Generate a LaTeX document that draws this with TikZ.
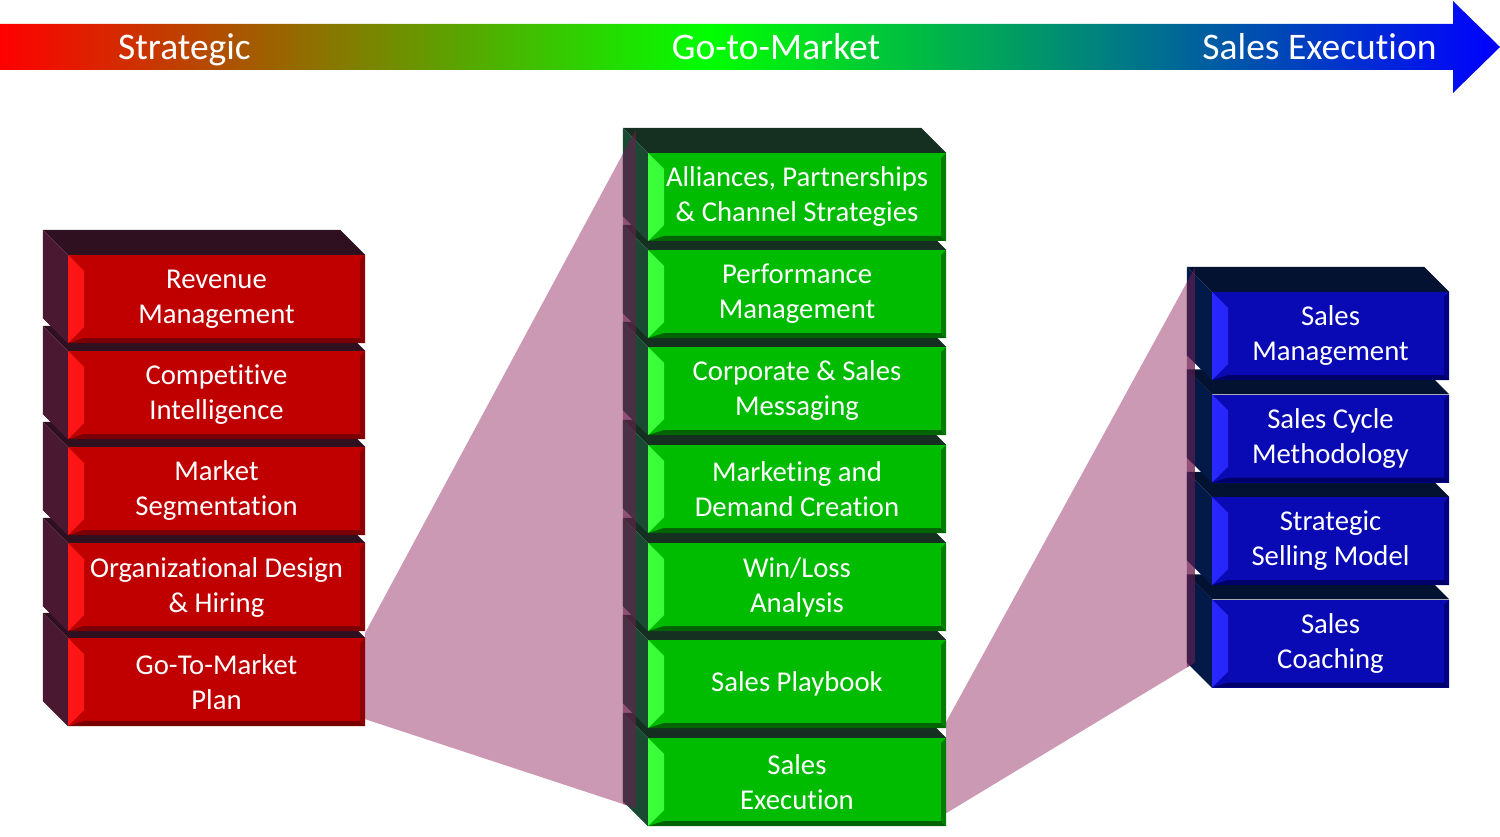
\documentclass[tikz,border=0pt]{standalone}
\usepackage{fontspec}
\setmainfont{Carlito}[Ligatures=NoCommon]
\usepackage{tikz}

\definecolor{redfront}{HTML}{C00000}
\definecolor{redlight}{HTML}{FF1616}
\definecolor{reddark}{HTML}{7A0000}
\definecolor{redtop}{HTML}{2E1020}
\definecolor{redside}{HTML}{4A1830}
\definecolor{greenfront}{HTML}{00BC00}
\definecolor{greenlight}{HTML}{3CFF3C}
\definecolor{greendark}{HTML}{006400}
\definecolor{greentop}{HTML}{153020}
\definecolor{greenside}{HTML}{1B4A32}
\definecolor{bluefront}{HTML}{0A0AB5}
\definecolor{bluelight}{HTML}{2828FF}
\definecolor{bluedark}{HTML}{00006A}
\definecolor{bluetop}{HTML}{041231}
\definecolor{blueside}{HTML}{031A48}
\definecolor{fancolor}{HTML}{CB99B4}
\definecolor{fantint}{HTML}{6A2050}

\pgfdeclarehorizontalshading{salesarrow}{100bp}{rgb(0bp)=(1,0,0); rgb(25bp)=(1,0,0); rgb(48.65bp)=(0,1,0); rgb(75bp)=(0,0,1); rgb(100bp)=(0,0,1)}
\pgfdeclarelayer{background}
\pgfsetlayers{background,main}

% top and left face of a brick, drawn after the node
\newcommand{\bricksides}[2]{%
  \fill[#1] ([shift={(-25pt,25pt)}]\tikzlastnode.north west) -- ([shift={(-25pt,25pt)}]\tikzlastnode.north east)
    -- (\tikzlastnode.north east) -- (\tikzlastnode.north west) -- cycle;
  \fill[#2] ([shift={(-25pt,25pt)}]\tikzlastnode.north west) -- (\tikzlastnode.north west)
    -- (\tikzlastnode.south west) -- ([shift={(-25pt,25pt)}]\tikzlastnode.south west) -- cycle;}

% bevel on the front face
\newcommand{\brickbevel}[3]{%
  \fill[left color=#1, right color=#2] (path picture bounding box.north west) -- ([shift={(16pt,-16pt)}]path picture bounding box.north west)
    -- ([shift={(16pt,16pt)}]path picture bounding box.south west) -- (path picture bounding box.south west) -- cycle;
  \fill[#3] (path picture bounding box.south west) -- ([shift={(16pt,5pt)}]path picture bounding box.south west)
    -- ([shift={(-5pt,5pt)}]path picture bounding box.south east) -- (path picture bounding box.south east) -- cycle;
  \fill[#3!70!#2] (path picture bounding box.north east) -- (path picture bounding box.south east)
    -- ([shift={(-5pt,5pt)}]path picture bounding box.south east) -- ([shift={(-5pt,-5pt)}]path picture bounding box.north east) -- cycle;}

\begin{document}
\begin{tikzpicture}[x=1pt, y=-1pt]

	\tikzstyle{brick} = [rectangle, inner sep=0pt, text=white, align=center, font=\fontsize{28.7}{35}\selectfont]
	\tikzstyle{brick_red} = [brick, minimum width=297pt, minimum height=88pt, fill=redfront,
		path picture={\brickbevel{redlight}{redfront}{reddark}}, append after command={\pgfextra{\bricksides{redtop}{redside}}}]
	\tikzstyle{brick_green} = [brick, minimum width=298pt, minimum height=88pt, fill=greenfront,
		path picture={\brickbevel{greenlight}{greenfront}{greendark}}, append after command={\pgfextra{\bricksides{greentop}{greenside}}}]
	\tikzstyle{brick_blue} = [brick, minimum width=237pt, minimum height=88pt, fill=bluefront,
		path picture={\brickbevel{bluelight}{bluefront}{bluedark}}, append after command={\pgfextra{\bricksides{bluetop}{blueside}}}]
	\tikzstyle{fan} = [fill=fancolor]
	\tikzstyle{fan_tint} = [fill=fantint, opacity=0.6]
	\tikzstyle{phase} = [anchor=base, text=white, font=\fontsize{37.5}{45}\selectfont]

	\useasboundingbox (0,0) rectangle (1500,837);

%------------------------------------------------------------
	\shade[shading=salesarrow] (0,24) -- (1453,24) -- (1453,1) -- (1500,47) -- (1453,93) -- (1453,70) -- (0,70) -- cycle;

	\node[phase] (strat) at (184.5,60) {Strategic};
	\node[phase] (gtm) at (776,60) {Go-to-Market};
	\node[phase] (exec) at (1319.5,60) {Sales Execution};

%------------------------------------------------------------
	\node[brick_red] (r5) at (216.5,682) {Go-To-Market\\Plan};
	\node[brick_red] (r4) at (216.5,587) {Organizational Design\\\& Hiring};
	\node[brick_red] (r3) at (216.5,491) {Market\\Segmentation};
	\node[brick_red] (r2) at (216.5,395) {Competitive\\Intelligence};
	\node[brick_red] (r1) at (216.5,299) {Revenue\\Management};

%------------------------------------------------------------
	\node[brick_green] (g7) at (797,782) {Sales\\Execution};
	\node[brick_green] (g6) at (797,684) {Sales Playbook};
	\node[brick_green] (g5) at (797,587) {Win/Loss\\Analysis};
	\node[brick_green] (g4) at (797,489) {Marketing and\\Demand Creation};
	\node[brick_green] (g3) at (797,391) {Corporate \& Sales\\Messaging};
	\node[brick_green] (g2) at (797,294) {Performance\\Management};
	\node[brick_green] (g1) at (797,197) {Alliances, Partnerships\\\& Channel Strategies};

%------------------------------------------------------------
	\node[brick_blue] (b4) at (1330.5,643.5) {Sales\\Coaching};
	\node[brick_blue] (b3) at (1330.5,541) {Strategic\\Selling Model};
	\node[brick_blue] (b2) at (1330.5,438.5) {Sales Cycle\\Methodology};
	\node[brick_blue] (b1) at (1330.5,336) {Sales\\Management};

%------------------------------------------------------------
	\begin{pgfonlayer}{background}
		\fill[fan] ([yshift=5pt]r5.north east) -- ([shift={(-12pt,23pt)}]g1.north west) -- ([shift={(-12pt,18pt)}]g7.south west) -- ([yshift=7pt]r5.south east) -- cycle;
		\fill[fan] ([yshift=16pt]g7.north east) -- ([shift={(-17pt,24pt)}]b1.north west) -- ([shift={(-17pt,25pt)}]b4.south west) -- ([yshift=13pt]g7.south east) -- cycle;
	\end{pgfonlayer}

	\begin{scope}
		\clip ([shift={(-25pt,25pt)}]g1.north west) rectangle ([shift={(-12pt,-10pt)}]g7.south west);
		\fill[fan_tint] ([yshift=5pt]r5.north east) -- ([shift={(-12pt,23pt)}]g1.north west) -- ([shift={(-12pt,18pt)}]g7.south west) -- ([yshift=7pt]r5.south east) -- cycle;
	\end{scope}
	\begin{scope}
		\clip ([shift={(-25pt,25pt)}]b1.north west) rectangle ([shift={(-17pt,-10pt)}]b4.south west);
		\fill[fan_tint] ([yshift=16pt]g7.north east) -- ([shift={(-17pt,24pt)}]b1.north west) -- ([shift={(-17pt,25pt)}]b4.south west) -- ([yshift=13pt]g7.south east) -- cycle;
	\end{scope}

\end{tikzpicture}
\end{document}
